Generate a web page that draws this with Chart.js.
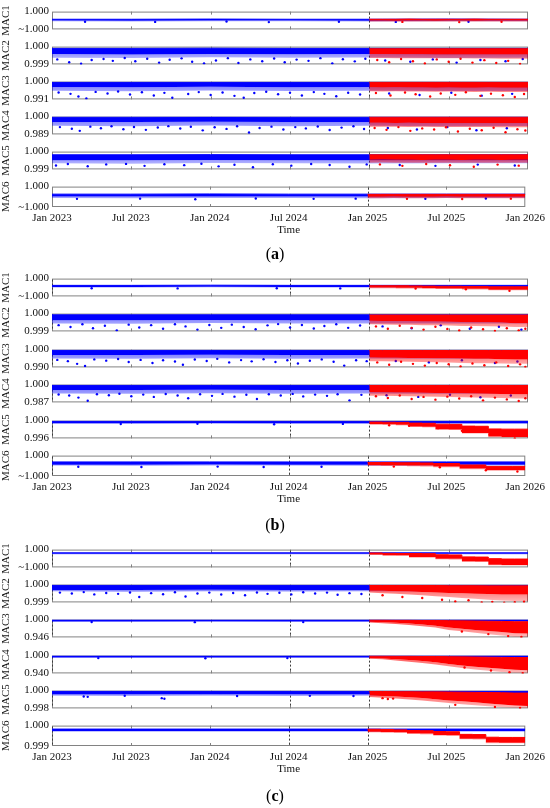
<!DOCTYPE html>
<html>
<head>
<meta charset="utf-8">
<title>MAC time series</title>
<script src="https://cdn.jsdelivr.net/npm/chart.js@4.4.1/dist/chart.umd.min.js"></script>
<style>
  html, body { margin: 0; padding: 0; background: #fff; }
  #figure { position: relative; width: 550px; height: 808px; overflow: hidden; background: #fff; }
  #figure canvas { position: absolute; left: 0; }
  .caption { position: absolute; left: 0; width: 550px; height: 20px; line-height: 20px; text-align: center;
             font-family: 'Liberation Serif', 'Times New Roman', serif; font-size: 16px; color: #000; }
</style>
</head>
<body>
<div id="figure"></div>
<script>
// ---- shared axis data ----
const tickMonths = [0, 6, 12, 18, 24, 30, 36];
const tickLabels = ['Jan 2023', 'Jul 2023', 'Jan 2024', 'Jul 2024', 'Jan 2025', 'Jul 2025', 'Jan 2026'];
const blueMonths = [0, 6, 12, 18, 24, 30, 36];
const redMonths = [24, 25, 26, 27, 28, 29, 30, 31, 32, 33, 34, 35, 36];
const macNames = ['MAC1', 'MAC2', 'MAC3', 'MAC4', 'MAC5', 'MAC6'];

// ---- panel (a) ----
const yMinA = [0.9999, 0.999, 0.991, 0.989, 0.999, 0.9999];
const yMinLabelsA = ['~1.000', '0.999', '0.991', '0.989', '0.999', '~1.000'];
const splitMonthsA = [24];
const blueTopA = [
  [0.999957, 0.999957, 0.999958, 0.999957, 0.999957, 0.999958, 0.999957],
  [0.99990, 0.99990, 0.99991, 0.99990, 0.99990, 0.99990, 0.99990],
  [0.99964, 0.99965, 0.99964, 0.99964, 0.99965, 0.99964, 0.99964],
  [0.99967, 0.99967, 0.99968, 0.99967, 0.99967, 0.99967, 0.99967],
  [0.99982, 0.99982, 0.99983, 0.99982, 0.99982, 0.99982, 0.99982],
  [0.999963, 0.999963, 0.999964, 0.999963, 0.999963, 0.999963, 0.999963]
];
const blueDenseA = [
  [0.999950, 0.999949, 0.999950, 0.999950, 0.999949, 0.999950, 0.999950],
  [0.99958, 0.99956, 0.99959, 0.99957, 0.99958, 0.99957, 0.99958],
  [0.99730, 0.99720, 0.99740, 0.99720, 0.99730, 0.99720, 0.99730],
  [0.99670, 0.99660, 0.99680, 0.99660, 0.99670, 0.99660, 0.99670],
  [0.99952, 0.99951, 0.99953, 0.99952, 0.99951, 0.99952, 0.99952],
  [0.999952, 0.999951, 0.999952, 0.999952, 0.999951, 0.999952, 0.999952]
];
const blueHazeA = [
  [0.999946, 0.999945, 0.999946, 0.999946, 0.999945, 0.999946, 0.999946],
  [0.99938, 0.99936, 0.99940, 0.99937, 0.99939, 0.99936, 0.99938],
  [0.99532, 0.99510, 0.99550, 0.99520, 0.99540, 0.99520, 0.99530],
  [0.99428, 0.99400, 0.99450, 0.99410, 0.99430, 0.99410, 0.99420],
  [0.99934, 0.99932, 0.99936, 0.99934, 0.99933, 0.99934, 0.99934],
  [0.999944, 0.999943, 0.999944, 0.999944, 0.999943, 0.999944, 0.999944]
];
const redTopA = [
  [0.999957, 0.999957, 0.999957, 0.999958, 0.999957, 0.999957, 0.999957, 0.999957, 0.999958, 0.999957, 0.999957, 0.999957, 0.999957],
  [0.99988, 0.99988, 0.99988, 0.99988, 0.99988, 0.99988, 0.99988, 0.99988, 0.99988, 0.99988, 0.99988, 0.99988, 0.99988],
  [0.99964, 0.99964, 0.99964, 0.99964, 0.99964, 0.99964, 0.99964, 0.99964, 0.99964, 0.99964, 0.99964, 0.99964, 0.99964],
  [0.99967, 0.99967, 0.99967, 0.99967, 0.99967, 0.99967, 0.99967, 0.99967, 0.99967, 0.99967, 0.99967, 0.99967, 0.99967],
  [0.99982, 0.99982, 0.99982, 0.99982, 0.99982, 0.99982, 0.99982, 0.99982, 0.99982, 0.99982, 0.99982, 0.99982, 0.99982],
  [0.999962, 0.999962, 0.999962, 0.999962, 0.999962, 0.999962, 0.999962, 0.999962, 0.999962, 0.999962, 0.999962, 0.999962, 0.999962]
];
const redDenseA = [
  [0.999950, 0.999950, 0.999949, 0.999950, 0.999950, 0.999949, 0.999950, 0.999950, 0.999949, 0.999950, 0.999950, 0.999950, 0.999950],
  [0.99958, 0.99958, 0.99957, 0.99957, 0.99957, 0.99956, 0.99956, 0.99956, 0.99955, 0.99955, 0.99955, 0.99955, 0.99955],
  [0.9971, 0.9970, 0.9971, 0.9970, 0.9970, 0.9969, 0.9970, 0.9969, 0.9969, 0.9970, 0.9969, 0.9969, 0.9969],
  [0.9962, 0.9962, 0.9961, 0.9962, 0.9961, 0.9961, 0.9961, 0.9960, 0.9961, 0.9960, 0.9960, 0.9960, 0.9960],
  [0.99954, 0.99955, 0.99954, 0.99954, 0.99953, 0.99954, 0.99954, 0.99953, 0.99954, 0.99954, 0.99953, 0.99954, 0.99954],
  [0.999950, 0.999950, 0.999951, 0.999950, 0.999950, 0.999950, 0.999951, 0.999950, 0.999950, 0.999950, 0.999950, 0.999950, 0.999950]
];
const redHazeA = [
  [0.999945, 0.999945, 0.999944, 0.999945, 0.999945, 0.999944, 0.999945, 0.999945, 0.999944, 0.999945, 0.999945, 0.999945, 0.999945],
  [0.99936, 0.99936, 0.99935, 0.99935, 0.99935, 0.99934, 0.99934, 0.99934, 0.99933, 0.99933, 0.99932, 0.99932, 0.99932],
  [0.9951, 0.9950, 0.9951, 0.9950, 0.9950, 0.9949, 0.9950, 0.9949, 0.9948, 0.9949, 0.9948, 0.9948, 0.9948],
  [0.9938, 0.9937, 0.9937, 0.9936, 0.9937, 0.9936, 0.9936, 0.9935, 0.9935, 0.9935, 0.9934, 0.9934, 0.9934],
  [0.99938, 0.99939, 0.99938, 0.99938, 0.99937, 0.99938, 0.99938, 0.99937, 0.99938, 0.99938, 0.99937, 0.99938, 0.99938],
  [0.999943, 0.999943, 0.999944, 0.999943, 0.999943, 0.999943, 0.999944, 0.999943, 0.999943, 0.999943, 0.999943, 0.999943, 0.999943]
];
const blueDotsA = [
  [[2.5, 0.999943], [7.8, 0.999942], [13.2, 0.999944], [16.4, 0.999941], [21.7, 0.999943], [26.0, 0.999942], [31.5, 0.999943]],
  [[0.4, 0.99928], [1.3, 0.99912], [2.2, 0.99904], [3.0, 0.99925], [3.9, 0.99930], [4.6, 0.99920], [5.5, 0.99936], [6.3, 0.99918],
   [7.2, 0.99932], [8.1, 0.99910], [8.9, 0.99926], [9.8, 0.99934], [10.6, 0.99915], [11.5, 0.99906], [12.4, 0.99922], [13.3, 0.99935],
   [14.1, 0.99908], [15.0, 0.99928], [15.9, 0.99918], [16.8, 0.99933], [17.6, 0.99912], [18.5, 0.99927], [19.4, 0.99920], [20.3, 0.99935],
   [21.2, 0.99906], [22.0, 0.99929], [22.9, 0.99917], [23.7, 0.99932], [25.2, 0.99922], [27.1, 0.99915], [28.8, 0.99928], [30.6, 0.99910],
   [32.4, 0.99925], [34.3, 0.99918], [35.6, 0.99930]],
  [[0.5, 0.9945], [1.4, 0.9938], [2.0, 0.9925], [2.6, 0.9915], [3.3, 0.9948], [4.2, 0.9940], [5.0, 0.9950], [5.9, 0.9935],
   [6.8, 0.9946], [7.7, 0.9930], [8.5, 0.9943], [9.1, 0.9918], [10.3, 0.9937], [11.1, 0.9947], [12.0, 0.9932], [12.9, 0.9945],
   [13.8, 0.9928], [14.5, 0.9918], [15.3, 0.9942], [16.2, 0.9949], [17.1, 0.9936], [18.0, 0.9944], [18.9, 0.9930], [19.8, 0.9947],
   [20.6, 0.9938], [21.5, 0.9926], [22.4, 0.9944], [23.3, 0.9935], [25.5, 0.9940], [27.8, 0.9932], [30.2, 0.9944], [32.5, 0.9929], [34.8, 0.9938]],
  [[0.6, 0.9935], [1.5, 0.9925], [2.1, 0.9912], [2.9, 0.9938], [3.7, 0.9928], [4.5, 0.9940], [5.4, 0.9922], [6.2, 0.9936],
   [7.1, 0.9918], [8.0, 0.9933], [8.8, 0.9941], [9.7, 0.9926], [10.5, 0.9937], [11.4, 0.9915], [12.3, 0.9934], [13.2, 0.9924],
   [14.0, 0.9940], [14.9, 0.9902], [15.7, 0.9930], [16.6, 0.9938], [17.5, 0.9920], [18.4, 0.9935], [19.2, 0.9927], [20.1, 0.9939],
   [21.0, 0.9917], [21.9, 0.9932], [22.8, 0.9940], [23.6, 0.9923], [25.4, 0.9930], [27.6, 0.9920], [29.9, 0.9935], [32.1, 0.9916], [34.4, 0.9928]],
  [[0.3, 0.99922], [1.2, 0.99930], [2.7, 0.99918], [4.1, 0.99928], [5.6, 0.99931], [7.0, 0.99920], [8.5, 0.99929], [10.0, 0.99924],
   [11.3, 0.99932], [12.6, 0.99917], [13.8, 0.99926], [15.2, 0.99912], [16.7, 0.99929], [18.1, 0.99921], [19.6, 0.99930], [21.0, 0.99925],
   [22.5, 0.99915], [23.8, 0.99928], [26.3, 0.99925], [29.0, 0.99920], [32.2, 0.99927], [35.0, 0.99922]],
  [[1.9, 0.999940], [6.7, 0.999941], [10.9, 0.999938], [15.5, 0.999942], [19.9, 0.999940], [23.1, 0.999941], [28.4, 0.999940], [33.0, 0.999942]]
];
const redDotsA = [
  [[26.5, 0.999942], [30.8, 0.999941], [34.0, 0.999943]],
  [[24.6, 0.99925], [25.5, 0.99912], [26.4, 0.99930], [27.3, 0.99918], [28.2, 0.99905], [29.1, 0.99928], [30.0, 0.99915],
   [30.9, 0.99932], [31.8, 0.99910], [32.7, 0.99924], [33.6, 0.99908], [34.5, 0.99920], [35.4, 0.99903]],
  [[24.5, 0.9942], [25.6, 0.9930], [26.7, 0.9945], [27.5, 0.9936], [28.6, 0.9925], [29.4, 0.9940], [30.5, 0.9933],
   [31.3, 0.9946], [32.4, 0.9928], [33.2, 0.9939], [34.1, 0.9931], [35.0, 0.9922], [35.7, 0.9937]],
  [[24.4, 0.9930], [25.3, 0.9918], [26.2, 0.9935], [27.1, 0.9912], [28.0, 0.9927], [28.9, 0.9920], [29.8, 0.9934],
   [30.7, 0.9908], [31.6, 0.9925], [32.5, 0.9916], [33.4, 0.9931], [34.3, 0.9903], [35.2, 0.9922], [35.8, 0.9914]],
  [[24.8, 0.99928], [26.5, 0.99920], [28.3, 0.99930], [30.1, 0.99923], [31.9, 0.99915], [33.7, 0.99927], [35.3, 0.99921]],
  [[27.0, 0.999940], [31.2, 0.999939], [34.9, 0.999941]]
];

// ---- panel (b) ----
const yMinB = [0.9999, 0.999, 0.990, 0.987, 0.996, 0.9999];
const yMinLabelsB = ['~1.000', '0.999', '0.990', '0.987', '0.996', '~1.000'];
const splitMonthsB = [0, 18, 24];
const blueTopB = [
  [0.999962, 0.999962, 0.999963, 0.999962, 0.999962, 0.999962, 0.999962],
  [0.99993, 0.99993, 0.99993, 0.99993, 0.99993, 0.99993, 0.99993],
  [0.99960, 0.99960, 0.99961, 0.99960, 0.99960, 0.99960, 0.99960],
  [0.99948, 0.99948, 0.99949, 0.99948, 0.99948, 0.99948, 0.99948],
  [0.99984, 0.99984, 0.99984, 0.99984, 0.99984, 0.99984, 0.99984],
  [0.999969, 0.999969, 0.999969, 0.999969, 0.999969, 0.999969, 0.999969]
];
const blueDenseB = [
  [0.999953, 0.999953, 0.999954, 0.999953, 0.999953, 0.999953, 0.999953],
  [0.99963, 0.99962, 0.99964, 0.99962, 0.99963, 0.99962, 0.99963],
  [0.99700, 0.99690, 0.99710, 0.99695, 0.99700, 0.99695, 0.99700],
  [0.99610, 0.99600, 0.99620, 0.99600, 0.99610, 0.99600, 0.99610],
  [0.99944, 0.99944, 0.99945, 0.99944, 0.99944, 0.99944, 0.99944],
  [0.999955, 0.999955, 0.999956, 0.999955, 0.999955, 0.999955, 0.999955]
];
const blueHazeB = [
  [0.999950, 0.999950, 0.999951, 0.999950, 0.999950, 0.999950, 0.999950],
  [0.99945, 0.99943, 0.99947, 0.99944, 0.99945, 0.99944, 0.99945],
  [0.99500, 0.99480, 0.99510, 0.99490, 0.99500, 0.99490, 0.99500],
  [0.99350, 0.99330, 0.99370, 0.99340, 0.99350, 0.99340, 0.99350],
  [0.99932, 0.99931, 0.99933, 0.99932, 0.99932, 0.99932, 0.99932],
  [0.999951, 0.999950, 0.999951, 0.999951, 0.999950, 0.999951, 0.999951]
];
const redTopB = [
  [0.999960, 0.999960, 0.999960, 0.999960, 0.999959, 0.999958, 0.999957, 0.999957, 0.999956, 0.999956, 0.999954, 0.999954, 0.999954],
  [0.99992, 0.99992, 0.99992, 0.99992, 0.99992, 0.99992, 0.99992, 0.99992, 0.99992, 0.99992, 0.99992, 0.99992, 0.99992],
  [0.99950, 0.99950, 0.99950, 0.99950, 0.99950, 0.99950, 0.99950, 0.99950, 0.99950, 0.99950, 0.99950, 0.99950, 0.99950],
  [0.99935, 0.99935, 0.99935, 0.99935, 0.99935, 0.99935, 0.99935, 0.99935, 0.99935, 0.99935, 0.99935, 0.99935, 0.99935],
  [0.99972, 0.99968, 0.99964, 0.99960, 0.99944, 0.99940, 0.99920, 0.99916, 0.99876, 0.99872, 0.99812, 0.99808, 0.99808],
  [0.999966, 0.999966, 0.999966, 0.999965, 0.999965, 0.999964, 0.999961, 0.999961, 0.999954, 0.999954, 0.999947, 0.999947, 0.999947]
];
const redDenseB = [
  [0.999950, 0.999950, 0.999950, 0.999949, 0.999948, 0.999947, 0.999945, 0.999945, 0.999943, 0.999943, 0.999938, 0.999938, 0.999938],
  [0.99960, 0.99959, 0.99958, 0.99957, 0.99956, 0.99955, 0.99954, 0.99953, 0.99952, 0.99951, 0.99950, 0.99946, 0.99946],
  [0.99550, 0.99545, 0.99540, 0.99535, 0.99530, 0.99520, 0.99510, 0.99500, 0.99490, 0.99480, 0.99460, 0.99440, 0.99440],
  [0.99454, 0.99440, 0.99430, 0.99420, 0.99410, 0.99395, 0.99380, 0.99370, 0.99350, 0.99340, 0.99320, 0.99290, 0.99290],
  [0.99932, 0.99924, 0.99916, 0.99908, 0.99868, 0.99860, 0.99808, 0.99800, 0.99724, 0.99720, 0.99640, 0.99632, 0.99632],
  [0.999954, 0.999954, 0.999953, 0.999953, 0.999952, 0.999951, 0.999947, 0.999947, 0.999937, 0.999937, 0.999930, 0.999930, 0.999930]
];
const redHazeB = [
  [0.999946, 0.999946, 0.999946, 0.999945, 0.999944, 0.999943, 0.999941, 0.999941, 0.999939, 0.999939, 0.999934, 0.999934, 0.999934],
  [0.99940, 0.99939, 0.99938, 0.99937, 0.99935, 0.99934, 0.99933, 0.99931, 0.99930, 0.99929, 0.99927, 0.99925, 0.99925],
  [0.99350, 0.99340, 0.99330, 0.99320, 0.99310, 0.99290, 0.99270, 0.99250, 0.99240, 0.99230, 0.99220, 0.99200, 0.99200],
  [0.99190, 0.99180, 0.99170, 0.99150, 0.99140, 0.99120, 0.99100, 0.99080, 0.99060, 0.99040, 0.99020, 0.98990, 0.98990],
  [0.99920, 0.99912, 0.99904, 0.99896, 0.99856, 0.99848, 0.99796, 0.99788, 0.99712, 0.99708, 0.99624, 0.99620, 0.99620],
  [0.999950, 0.999950, 0.999949, 0.999949, 0.999948, 0.999947, 0.999943, 0.999943, 0.999933, 0.999933, 0.999926, 0.999926, 0.999926]
];
const blueDotsB = [
  [[3.0, 0.999946], [9.5, 0.999945], [17.0, 0.999946], [21.8, 0.999945]],
  [[0.5, 0.99935], [1.4, 0.99925], [2.3, 0.99940], [3.1, 0.99918], [4.0, 0.99932], [4.9, 0.99906], [5.8, 0.99938], [6.6, 0.99922],
   [7.5, 0.99935], [8.4, 0.99915], [9.3, 0.99940], [10.1, 0.99928], [11.0, 0.99910], [11.9, 0.99936], [12.8, 0.99920], [13.6, 0.99938],
   [14.5, 0.99925], [15.4, 0.99912], [16.3, 0.99934], [17.1, 0.99941], [18.0, 0.99922], [18.9, 0.99936], [19.8, 0.99916], [20.6, 0.99930],
   [21.5, 0.99940], [22.4, 0.99920], [23.3, 0.99933], [25.0, 0.99928], [27.2, 0.99918], [29.4, 0.99934], [31.6, 0.99915], [33.8, 0.99926], [35.5, 0.99910]],
  [[0.4, 0.9942], [1.2, 0.9935], [1.9, 0.9920], [2.5, 0.9908], [3.2, 0.9945], [4.1, 0.9938], [5.0, 0.9947], [5.8, 0.9930],
   [6.7, 0.9942], [7.6, 0.9925], [8.4, 0.9940], [9.3, 0.9933], [9.9, 0.9915], [10.8, 0.9944], [11.7, 0.9936], [12.5, 0.9948],
   [13.4, 0.9928], [14.3, 0.9941], [15.1, 0.9934], [16.0, 0.9946], [16.9, 0.9930], [17.8, 0.9940], [18.6, 0.9922], [19.5, 0.9937],
   [20.4, 0.9945], [21.3, 0.9932], [22.1, 0.9910], [23.0, 0.9940], [23.8, 0.9935], [26.0, 0.9936], [28.5, 0.9928], [31.0, 0.9940], [33.5, 0.9925], [35.2, 0.9933]],
  [[0.5, 0.9928], [1.3, 0.9920], [2.0, 0.9905], [2.7, 0.9882], [3.4, 0.9930], [4.3, 0.9922], [5.1, 0.9933], [6.0, 0.9915],
   [6.9, 0.9927], [7.7, 0.9910], [8.6, 0.9931], [9.5, 0.9920], [10.3, 0.9900], [11.2, 0.9929], [12.1, 0.9918], [12.9, 0.9932],
   [13.8, 0.9912], [14.7, 0.9926], [15.5, 0.9895], [16.4, 0.9930], [17.3, 0.9920], [18.2, 0.9932], [19.0, 0.9914], [19.9, 0.9927],
   [20.8, 0.9918], [21.6, 0.9930], [22.5, 0.9885], [23.4, 0.9925], [25.3, 0.9922], [27.7, 0.9910], [30.1, 0.9926], [32.4, 0.9908], [34.7, 0.9920]],
  [[5.2, 0.99925], [11.0, 0.99928], [16.8, 0.99918], [22.0, 0.99926]],
  [[2.0, 0.999945], [6.8, 0.999944], [12.6, 0.999946], [16.1, 0.999944], [20.5, 0.999945]]
];
const redDotsB = [
  [[27.5, 0.999944], [31.3, 0.999940], [34.6, 0.999932]],
  [[24.5, 0.99928], [25.4, 0.99915], [26.3, 0.99932], [27.2, 0.99920], [28.1, 0.99910], [29.0, 0.99926], [29.9, 0.99914],
   [30.8, 0.99905], [31.7, 0.99922], [32.6, 0.99912], [33.5, 0.99902], [34.4, 0.99918], [35.3, 0.99906], [35.8, 0.99915]],
  [[24.6, 0.9928], [25.5, 0.9915], [26.4, 0.9932], [27.3, 0.9920], [28.2, 0.9910], [29.1, 0.9925], [30.0, 0.9918],
   [30.9, 0.9905], [31.8, 0.9922], [32.7, 0.9912], [33.6, 0.9928], [34.5, 0.9908], [35.4, 0.9917], [35.8, 0.9903]],
  [[24.5, 0.9915], [25.4, 0.9902], [26.3, 0.9920], [27.2, 0.9895], [28.1, 0.9910], [29.0, 0.9890], [29.9, 0.9912],
   [30.8, 0.9898], [31.7, 0.9915], [32.6, 0.9885], [33.5, 0.9905], [34.4, 0.9892], [35.3, 0.9880], [35.8, 0.9900]],
  [[25.5, 0.99895], [27.0, 0.99885], [29.2, 0.99830], [31.0, 0.99770], [33.1, 0.99690], [35.0, 0.99600]],
  [[26.0, 0.999946], [29.5, 0.999943], [33.0, 0.999928], [35.4, 0.999922]]
];

// ---- panel (c) ----
const yMinC = [0.9999, 0.999, 0.946, 0.940, 0.998, 0.999];
const yMinLabelsC = ['~1.000', '0.999', '0.946', '0.940', '0.998', '0.999'];
const splitMonthsC = [0, 18, 24];
const blueTopC = [
  [0.999982, 0.999982, 0.999982, 0.999982, 0.999982, 0.999982, 0.999982],
  [0.99996, 0.99996, 0.99996, 0.99996, 0.99996, 0.99996, 0.99996],
  [0.99892, 0.99892, 0.99892, 0.99892, 0.99892, 0.99892, 0.99892],
  [0.99880, 0.99880, 0.99880, 0.99880, 0.99880, 0.99880, 0.99880],
  [0.99992, 0.99992, 0.99992, 0.99992, 0.99992, 0.99992, 0.99992],
  [0.99983, 0.99983, 0.99983, 0.99983, 0.99983, 0.99983, 0.99983]
];
const blueDenseC = [
  [0.999976, 0.999976, 0.999976, 0.999976, 0.999976, 0.999976, 0.999976],
  [0.99970, 0.99969, 0.99971, 0.99969, 0.99970, 0.99969, 0.99970],
  [0.99514, 0.99500, 0.99520, 0.99505, 0.99514, 0.99505, 0.99514],
  [0.99460, 0.99450, 0.99470, 0.99450, 0.99460, 0.99450, 0.99460],
  [0.99960, 0.99959, 0.99961, 0.99959, 0.99960, 0.99959, 0.99960],
  [0.99974, 0.99974, 0.99974, 0.99974, 0.99974, 0.99974, 0.99974]
];
const blueHazeC = [
  [0.999974, 0.999974, 0.999974, 0.999974, 0.999974, 0.999974, 0.999974],
  [0.99962, 0.99960, 0.99963, 0.99961, 0.99962, 0.99961, 0.99962],
  [0.99298, 0.99280, 0.99310, 0.99290, 0.99298, 0.99290, 0.99298],
  [0.99220, 0.99200, 0.99230, 0.99210, 0.99220, 0.99210, 0.99220],
  [0.99944, 0.99942, 0.99946, 0.99943, 0.99944, 0.99943, 0.99944],
  [0.99971, 0.99971, 0.99971, 0.99971, 0.99971, 0.99971, 0.99971]
];
const redTopC = [
  [0.999982, 0.999981, 0.999979, 0.999978, 0.999978, 0.999977, 0.999971, 0.999970, 0.999959, 0.999958, 0.999949, 0.999947, 0.999947],
  [0.99995, 0.99995, 0.99995, 0.99995, 0.99995, 0.99995, 0.99994, 0.99994, 0.99994, 0.99993, 0.99993, 0.99993, 0.99993],
  [0.99838, 0.99838, 0.99784, 0.99784, 0.99730, 0.99730, 0.99676, 0.99622, 0.99568, 0.99514, 0.99460, 0.99352, 0.99352],
  [0.99820, 0.99820, 0.99760, 0.99760, 0.99700, 0.99700, 0.99640, 0.99580, 0.99520, 0.99460, 0.99400, 0.99340, 0.99340],
  [0.99990, 0.99990, 0.99988, 0.99988, 0.99986, 0.99986, 0.99984, 0.99982, 0.99980, 0.99978, 0.99976, 0.99972, 0.99972],
  [0.99983, 0.99982, 0.99981, 0.99979, 0.99976, 0.99975, 0.99971, 0.99970, 0.99957, 0.99956, 0.99943, 0.99942, 0.99942]
];
const redDenseC = [
  [0.999974, 0.999973, 0.999969, 0.999968, 0.999959, 0.999958, 0.999949, 0.999948, 0.999934, 0.999933, 0.999915, 0.999914, 0.999914],
  [0.99966, 0.99965, 0.99963, 0.99961, 0.99959, 0.99956, 0.99953, 0.99951, 0.99949, 0.99947, 0.99945, 0.99944, 0.99944],
  [0.99352, 0.99190, 0.99028, 0.98812, 0.98488, 0.98110, 0.97570, 0.97192, 0.96868, 0.96544, 0.96220, 0.95896, 0.95788],
  [0.99220, 0.99040, 0.98800, 0.98500, 0.98140, 0.97720, 0.97180, 0.96700, 0.96280, 0.95920, 0.95560, 0.95200, 0.95080],
  [0.99944, 0.99940, 0.99934, 0.99926, 0.99916, 0.99904, 0.99890, 0.99880, 0.99868, 0.99856, 0.99844, 0.99832, 0.99828],
  [0.99971, 0.99970, 0.99969, 0.99968, 0.99962, 0.99961, 0.99954, 0.99953, 0.99936, 0.99935, 0.99917, 0.99916, 0.99916]
];
const redHazeC = [
  [0.999971, 0.999970, 0.999966, 0.999965, 0.999956, 0.999955, 0.999946, 0.999945, 0.999931, 0.999930, 0.999912, 0.999911, 0.999911],
  [0.99955, 0.99952, 0.99948, 0.99944, 0.99940, 0.99935, 0.99930, 0.99925, 0.99920, 0.99915, 0.99910, 0.99908, 0.99908],
  [0.99136, 0.98920, 0.98650, 0.98380, 0.97948, 0.97570, 0.96868, 0.96490, 0.96004, 0.95572, 0.95140, 0.94816, 0.94762],
  [0.98980, 0.98740, 0.98380, 0.97960, 0.97480, 0.97000, 0.96400, 0.95800, 0.95320, 0.94900, 0.94480, 0.94180, 0.94180],
  [0.99928, 0.99920, 0.99910, 0.99900, 0.99888, 0.99874, 0.99860, 0.99848, 0.99836, 0.99824, 0.99812, 0.99806, 0.99806],
  [0.99968, 0.99967, 0.99966, 0.99965, 0.99959, 0.99958, 0.99951, 0.99950, 0.99933, 0.99932, 0.99914, 0.99913, 0.99913]
];
const blueDotsC = [
  [],
  [[0.6, 0.99955], [1.5, 0.99950], [2.4, 0.99958], [3.2, 0.99945], [4.1, 0.99953], [5.0, 0.99948], [5.9, 0.99956], [6.6, 0.99930],
   [7.5, 0.99952], [8.4, 0.99946], [9.3, 0.99957], [10.1, 0.99933], [11.0, 0.99950], [11.9, 0.99955], [12.8, 0.99944], [13.7, 0.99953],
   [14.6, 0.99940], [15.5, 0.99956], [16.3, 0.99948], [17.2, 0.99954], [18.1, 0.99945], [19.0, 0.99957], [19.9, 0.99950], [20.8, 0.99955],
   [21.6, 0.99943], [22.5, 0.99952], [23.4, 0.99947]],
  [[3.0, 0.9925], [10.8, 0.9922], [19.0, 0.9924]],
  [[3.5, 0.9915], [11.6, 0.9912], [17.8, 0.9916]],
  [[2.4, 0.99934], [2.7, 0.99930], [8.3, 0.99915], [8.5, 0.99908], [5.5, 0.99942], [14.0, 0.99940], [19.5, 0.99941], [22.8, 0.99939]],
  []
];
const redDotsC = [
  [],
  [[25.0, 0.99940], [26.5, 0.99930], [28.0, 0.99925], [29.5, 0.99915], [30.5, 0.99905], [31.5, 0.99912], [32.5, 0.99900],
   [33.3, 0.99903], [34.2, 0.99898], [35.0, 0.99901], [35.7, 0.99904]],
  [[31.0, 0.9640], [33.0, 0.9560], [34.5, 0.9500], [35.5, 0.9470]],
  [[31.2, 0.9600], [33.2, 0.9500], [34.6, 0.9440], [35.6, 0.9410]],
  [[25.0, 0.99915], [25.4, 0.99905], [25.8, 0.99910], [30.5, 0.99840], [33.5, 0.99815], [35.4, 0.99804]],
  []
];

// ---- styling / layout ----
const BLUE = '#0000ff';
const RED = '#ff0000';
const BLUE_RGB = '0, 0, 255';
const RED_RGB = '255, 0, 0';
const FRAME_COLOR = '#828282';
const FRAME_H = 23;
const PAD = 7;
const XAXIS_H = 30;

Chart.defaults.font.family = "'Liberation Serif', 'Times New Roman', serif";
Chart.defaults.font.size = 11;
Chart.defaults.color = '#111';

const panels = [
  { caption: 'a', top: 9, pitch: 35, captionY: 254, yMin: yMinA, yMinLabels: yMinLabelsA, splits: splitMonthsA, stepped: [],
    blueTop: blueTopA, blueDense: blueDenseA, blueHaze: blueHazeA, redTop: redTopA, redDense: redDenseA, redHaze: redHazeA,
    blueDots: blueDotsA, redDots: redDotsA },
  { caption: 'b', top: 276, pitch: 35.4, captionY: 525, yMin: yMinB, yMinLabels: yMinLabelsB, splits: splitMonthsB, stepped: [0, 4, 5],
    blueTop: blueTopB, blueDense: blueDenseB, blueHaze: blueHazeB, redTop: redTopB, redDense: redDenseB, redHaze: redHazeB,
    blueDots: blueDotsB, redDots: redDotsB },
  { caption: 'c', top: 547, pitch: 35.2, captionY: 796, yMin: yMinC, yMinLabels: yMinLabelsC, splits: splitMonthsC, stepped: [0, 5],
    blueTop: blueTopC, blueDense: blueDenseC, blueHaze: blueHazeC, redTop: redTopC, redDense: redDenseC, redHaze: redHazeC,
    blueDots: blueDotsC, redDots: redDotsC }
];

// Frame, inward ticks and dashed split lines, drawn under the data
const framePlugin = {
  id: 'frame',
  beforeDatasetsDraw(chart, args, opts) {
    const { ctx, chartArea: a, scales: { x } } = chart;
    ctx.save();
    ctx.strokeStyle = FRAME_COLOR;
    ctx.lineWidth = 1;
    ctx.strokeRect(a.left + 0.5, a.top + 0.5, a.width - 1, a.height - 1);
    ctx.beginPath();
    tickMonths.slice(1, -1).forEach(m => {
      const px = Math.round(x.getPixelForValue(m)) + 0.5;
      ctx.moveTo(px, a.top);
      ctx.lineTo(px, a.top + 3);
      ctx.moveTo(px, a.bottom);
      ctx.lineTo(px, a.bottom - 3);
    });
    ctx.stroke();
    ctx.strokeStyle = '#3c3c3c';
    ctx.setLineDash([2, 2]);
    ctx.beginPath();
    opts.splits.forEach(m => {
      const px = Math.round(x.getPixelForValue(m)) + 0.5;
      ctx.moveTo(px, a.top + 1);
      ctx.lineTo(px, a.bottom - 1);
    });
    ctx.stroke();
    ctx.restore();
  }
};

// the scattered fringe fades towards the bottom of the axes
function hazeFill(rgb, strong, weak) {
  return c => {
    const area = c.chart.chartArea;
    if (!area) return 'rgba(' + rgb + ', ' + strong + ')';
    const g = c.chart.ctx.createLinearGradient(0, area.top, 0, area.bottom);
    g.addColorStop(0, 'rgba(' + rgb + ', ' + strong + ')');
    g.addColorStop(1, 'rgba(' + rgb + ', ' + weak + ')');
    return g;
  };
}

function toPoints(xs, ys) {
  return xs.map((x, i) => ({ x: x, y: ys[i] }));
}

// top edge, dense part and scattered fringe of one colour's cloud
function bandDatasets(xs, top, dense, haze, color, hazeColor, order, stepped) {
  const base = { pointRadius: 0, order: order, stepped: stepped ? 'after' : false, tension: 0 };
  return [
    Object.assign({}, base, { data: toPoints(xs, top), borderColor: color, borderWidth: 1, fill: false }),
    Object.assign({}, base, { data: toPoints(xs, dense), borderColor: 'rgba(0,0,0,0)', borderWidth: 0, fill: '-1', backgroundColor: color }),
    Object.assign({}, base, { data: toPoints(xs, haze), borderColor: 'rgba(0,0,0,0)', borderWidth: 0, fill: '-1', backgroundColor: hazeColor })
  ];
}

function dotDataset(dots, color, order) {
  return {
    data: dots.map(d => ({ x: d[0], y: d[1] })),
    showLine: false, pointRadius: 1.2, pointBorderWidth: 0,
    pointBackgroundColor: color, order: order
  };
}

const fig = document.getElementById('figure');

panels.forEach(p => {
  macNames.forEach((mac, s) => {
    const isBottom = s === macNames.length - 1;
    const frameTop = Math.round(p.top + s * p.pitch);
    const h = PAD + FRAME_H + (isBottom ? XAXIS_H + 2 : PAD);
    const canvas = document.createElement('canvas');
    canvas.width = 550;
    canvas.height = h;
    canvas.style.width = '550px';
    canvas.style.height = h + 'px';
    canvas.style.top = (frameTop - PAD) + 'px';
    fig.appendChild(canvas);

    const stepped = p.stepped.indexOf(s) >= 0;
    const yMin = p.yMin[s];
    const datasets = [].concat(
      bandDatasets(redMonths, p.redTop[s], p.redDense[s], p.redHaze[s], RED, hazeFill(RED_RGB, 0.7, 0.25), 0, stepped),
      [dotDataset(p.redDots[s], RED, 0)],
      bandDatasets(blueMonths, p.blueTop[s], p.blueDense[s], p.blueHaze[s], BLUE, hazeFill(BLUE_RGB, 0.6, 0.15), 1, false),
      [dotDataset(p.blueDots[s], BLUE, 1)]
    );

    new Chart(canvas, {
      type: 'line',
      data: { datasets: datasets },
      plugins: [framePlugin],
      options: {
        responsive: false,
        animation: false,
        events: [],
        layout: { padding: { top: PAD, bottom: isBottom ? 2 : PAD, left: 0, right: 22 } },
        plugins: {
          legend: { display: false },
          tooltip: { enabled: false },
          frame: { splits: p.splits }
        },
        scales: {
          x: {
            type: 'linear', min: 0, max: 36,
            display: isBottom,
            afterBuildTicks: sc => { sc.ticks = tickMonths.map(v => ({ value: v })); },
            afterFit: sc => { if (isBottom) sc.height = XAXIS_H; },
            grid: { display: false, drawTicks: false },
            border: { display: false },
            ticks: { autoSkip: false, maxRotation: 0, padding: 5, callback: (v, i) => tickLabels[i] },
            title: { display: true, text: 'Time', padding: 0 }
          },
          y: {
            type: 'linear', min: yMin, max: 1,
            afterBuildTicks: sc => { sc.ticks = [{ value: yMin }, { value: 1 }]; },
            afterFit: sc => { sc.width = 52; },
            grid: { display: false, drawTicks: false },
            border: { display: false },
            ticks: { autoSkip: false, padding: 3, callback: (v, i) => (i === 0 ? p.yMinLabels[s] : '1.000') },
            title: { display: true, text: mac, padding: 0 }
          }
        }
      }
    });
  });

  const cap = document.createElement('div');
  cap.className = 'caption';
  cap.style.top = (p.captionY - 10) + 'px';
  cap.innerHTML = '(<b>' + p.caption + '</b>)';
  fig.appendChild(cap);
});
</script>
</body>
</html>
